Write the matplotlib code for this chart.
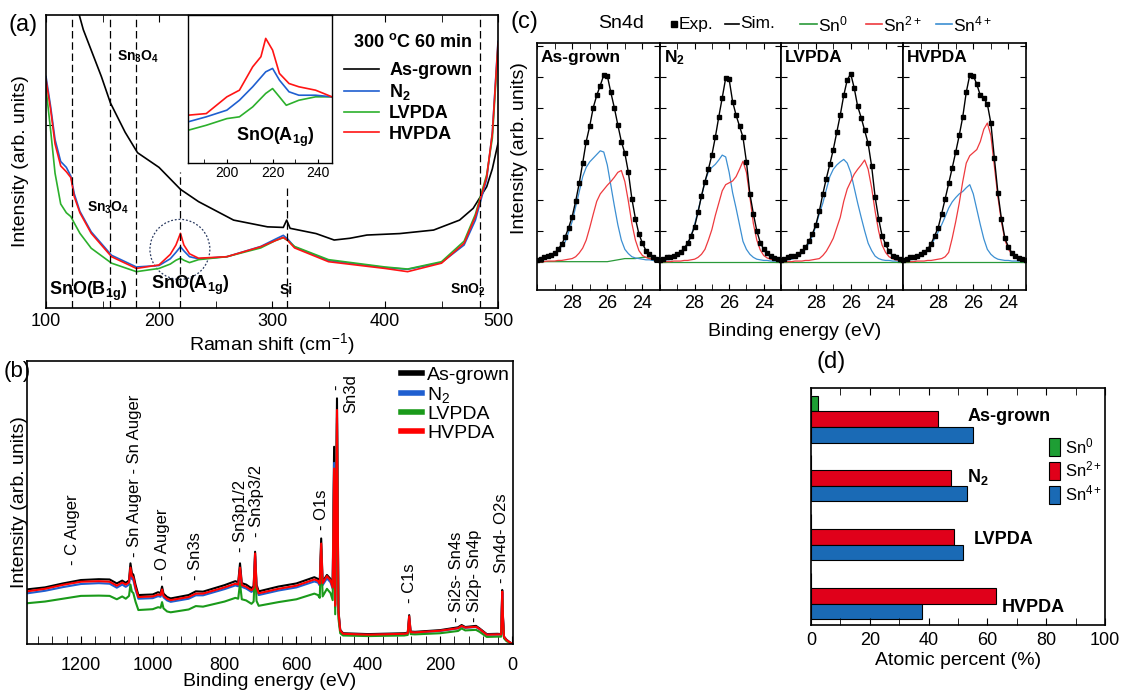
import matplotlib
matplotlib.use("Agg")
import matplotlib.pyplot as plt
from matplotlib.lines import Line2D
from matplotlib.patches import Ellipse
from matplotlib.ticker import MultipleLocator, NullLocator

plt.rcParams.update({
    "font.family": ["Liberation Sans", "DejaVu Sans"],
    "mathtext.fontset": "custom",
    "mathtext.rm": "Liberation Sans",
    "mathtext.it": "Liberation Sans:italic",
    "mathtext.bf": "Liberation Sans:bold",
    "axes.linewidth": 1.2,
    "xtick.direction": "in",
    "ytick.direction": "in",
})
NARROW = ["Liberation Sans Narrow", "Liberation Sans", "DejaVu Sans"]

W, H = 1126, 699

# ---------------- (a) Raman ----------------
raman_grown_x = [128, 133, 140, 149, 157, 170, 181, 200, 219, 235, 266, 296, 310, 313, 316,
                 339, 355, 369, 384, 413, 443, 466, 478, 490, 495, 500]
raman_grown_y = [102, 95, 88, 79, 70, 60, 53, 48, 40.5, 36.3, 30.0, 27.7, 27.5, 30.0, 27.2,
                 25.4, 23.2, 23.8, 24.9, 25.4, 26.6, 30.0, 34.0, 41.4, 47.5, 56.2]
raman_x = [100, 104, 108, 113, 118, 122, 125, 130, 140, 158, 180, 200, 210, 215, 219, 222, 227,
           235, 260, 290, 303, 310, 314, 320, 350, 400, 420, 450, 470, 480, 490, 495, 500]
raman_n2 = [79, 69, 57.5, 50, 48, 45, 39, 33, 26, 18, 14, 14.5, 16.8, 19, 20.9, 19.5, 17.5,
            16.8, 17.5, 21, 23.5, 24.8, 23.5, 20.8, 16.2, 13.8, 13.2, 15.5, 21.5, 30.0, 44.0, 60.0, 91.0]
raman_lv = [75, 61, 46, 35.5, 32.5, 31.2, 29, 25.5, 20.4, 15.3, 12.4, 13.5, 15, 16.3, 17.0, 16.3, 15.5,
            16.5, 17.5, 20.5, 23.0, 24.0, 23.0, 21.0, 16.5, 14.0, 13.3, 15.8, 22.8, 32.0, 45.5, 58.0, 89.0]
raman_hv = [78, 68, 56, 48.5, 46.5, 44.5, 38, 32.5, 25.5, 17.5, 13.5, 14.7, 18.3, 21.5, 25.5, 21.5, 18.5,
            17.0, 17.5, 20.9, 23.0, 24.1, 23.0, 20.5, 15.8, 13.5, 12.4, 15.3, 22.1, 31.2, 44.8, 59.6, 90.3]
raman_ref_lines = [123, 157, 180, 484]

inset_hv_x = [183, 191, 200, 205.5, 211.3, 214.9, 217, 220, 223, 227.2, 231.5, 238.8, 246]
inset_hv_y = [32.3, 33.4, 44.7, 49.2, 65, 71.8, 84.2, 76.3, 60.5, 53.7, 51.5, 49.2, 44.7]
inset_n2_x = [183, 191, 200, 205.5, 211.3, 217, 220, 223, 227.2, 231.5, 238.8, 246]
inset_n2_y = [27.8, 31.2, 35.7, 42.4, 51.5, 61.6, 63.9, 56, 48.1, 45.8, 45.8, 44.7]
inset_lv_x = [183, 191, 200, 205.5, 211.3, 217, 220, 223, 226, 231.5, 238.8, 246]
inset_lv_y = [22.1, 25.5, 30, 31.2, 37.9, 47, 50.3, 44.7, 39, 42.4, 44.7, 44.7]

# ---------------- (b) XPS survey ----------------
xps_be = [1350, 1300, 1250, 1200, 1150, 1120, 1100, 1085, 1075, 1066, 1062, 1058, 1054, 1048, 1040,
          1000, 985, 978, 974, 970, 960, 950, 900, 880, 860, 800, 770, 762, 757, 752, 740, 725, 719,
          715, 711, 705, 650, 600, 550, 540, 535, 531, 527, 515, 505, 499, 495, 492, 487, 483, 478,
          470, 400, 300, 290, 286, 282, 270, 200, 150, 140, 130, 100, 90, 70, 40, 30, 27, 25, 22, 15, 5, 0]
xps_grown = [19.3, 20.0, 21.4, 22.6, 22.9, 22.8, 21.4, 22.4, 21.6, 22.5, 28.5, 25.0, 24.5, 21.0, 17.3,
             17.5, 18.3, 18.0, 20.3, 17.8, 16.6, 16.1, 17.3, 18.6, 18.5, 20.8, 22.2, 21.8, 28.5, 21.5, 21.0, 19.7, 20.5,
             32.6, 21.0, 18.6, 20.3, 21.4, 23.6, 23.0, 22.0, 37.3, 22.0, 24.4, 23.0, 21.0, 69.7, 14.0, 86.8, 12.0, 5.0,
             3.8, 3.5, 3.8, 4.0, 10.2, 4.4, 4.3, 4.9, 5.9, 6.7, 6.0, 6.4, 5.5, 3.5, 3.6, 3.5, 19.1, 10.0, 2.6, 1.5, 0.5, 0.2]
xps_n2 = [17.9, 18.8, 20.1, 21.2, 21.5, 21.3, 19.9, 21.0, 20.2, 21.0, 26.0, 23.0, 22.6, 19.3, 16.0,
          16.2, 16.9, 16.7, 18.8, 16.5, 15.4, 14.9, 16.0, 17.2, 17.2, 19.4, 20.7, 20.4, 26.0, 20.2, 19.6, 18.4, 19.2,
          31.0, 19.6, 17.3, 18.9, 20.0, 22.1, 21.7, 20.7, 33.5, 20.8, 23.2, 21.8, 19.5, 64.0, 13.0, 80.0, 11.0, 4.6,
          3.5, 3.2, 3.5, 3.7, 9.0, 4.1, 4.0, 4.6, 5.5, 6.2, 5.7, 6.0, 5.2, 3.3, 3.3, 3.3, 18.0, 9.2, 2.4, 1.3, 0.5, 0.2]
xps_lv = [14.4, 15.0, 16.0, 17.0, 17.1, 17.0, 15.8, 16.8, 16.0, 17.0, 21.0, 18.5, 18.0, 15.0, 12.0,
          12.3, 13.0, 12.8, 14.8, 12.6, 11.5, 11.2, 12.2, 13.4, 13.2, 15.0, 16.3, 16.0, 21.5, 15.8, 15.4, 14.2, 15.0,
          28.0, 15.2, 13.5, 14.8, 15.8, 17.8, 17.3, 16.3, 33.5, 16.8, 19.5, 18.0, 15.5, 60.0, 10.5, 78.0, 9.0, 3.8,
          3.0, 2.8, 3.0, 3.2, 8.0, 3.5, 3.4, 3.8, 4.6, 5.5, 4.8, 5.0, 4.3, 2.5, 2.6, 2.6, 16.0, 8.0, 2.0, 1.0, 0.4, 0.1]
xps_hv = [18.6, 19.5, 20.9, 22.0, 22.2, 22.0, 20.6, 21.7, 21.0, 21.8, 27.0, 24.0, 23.5, 20.0, 16.6,
          16.8, 17.5, 17.3, 19.3, 17.0, 16.0, 15.5, 16.6, 17.8, 17.8, 20.0, 21.3, 21.0, 27.0, 20.8, 20.2, 19.0, 19.8,
          32.0, 20.2, 17.9, 19.5, 20.6, 22.8, 22.3, 21.3, 35.5, 21.5, 24.0, 22.5, 20.0, 62.0, 13.5, 82.7, 11.5, 4.8,
          3.6, 3.3, 3.6, 3.8, 9.8, 4.2, 4.1, 4.7, 5.6, 6.4, 5.8, 6.1, 5.3, 3.3, 3.4, 3.4, 18.5, 9.5, 2.5, 1.4, 0.5, 0.2]
xps_peaks = [("- C Auger", 1223, 27.9), ("- Sn Auger - Sn Auger", 1051, 30.7), ("- O Auger", 972, 22.6),
             ("- Sn3s", 880, 22.6), ("- Sn3p1/2", 757, 32.5), ("- Sn3p3/2", 712, 37.8), ("- O1s", 531, 40.3),
             ("-", 487, 89.8), ("Sn3d", 448, 81.6), ("- C1s", 285, 14.5), ("- Si2s- Sn4s", 155, 7.8),
             ("- Si2p- Sn4p", 104, 7.8), ("- Sn4d- O2s", 30, 21.6)]

# ---------------- (c) Sn4d fits ----------------
sn4d_be = [30.0, 29.8, 29.6, 29.4, 29.2, 29.0, 28.8, 28.6, 28.4, 28.2, 28.0, 27.8, 27.6, 27.4, 27.2, 27.0,
           26.8, 26.6, 26.4, 26.2, 26.0, 25.8, 25.6, 25.4, 25.2, 25.0, 24.8, 24.6, 24.4, 24.2, 24.0, 23.8,
           23.6, 23.4, 23.2, 23.0]
exp_grown = [0.03, 0.05, 0.07, 0.09, 0.11, 0.14, 0.2, 0.28, 0.4, 0.55, 0.73, 0.98, 1.27, 1.6, 1.95, 2.2,
             2.5, 2.7, 2.86, 3.03, 3.02, 2.75, 2.5, 2.22, 1.95, 1.76, 1.45, 1.02, 0.7, 0.45, 0.3, 0.18,
             0.12, 0.08, 0.05, 0.03]
sn0_grown = [0, 0, 0, 0, 0, 0, 0, 0, 0, 0, 0, 0, 0, 0, 0, 0, 0, 0, 0, 0, 0, 0.01, 0.02, 0.03, 0.04, 0.05,
             0.05, 0.05, 0.05, 0.06, 0.07, 0.07, 0.06, 0.05, 0.03, 0.02]
sn2_grown = [0.0, 0.0, 0.0, 0.01, 0.01, 0.01, 0.02, 0.02, 0.03, 0.04, 0.05, 0.08, 0.14, 0.22, 0.35, 0.55,
             0.77, 0.98, 1.1, 1.17, 1.24, 1.3, 1.37, 1.45, 1.48, 1.3, 0.98, 0.62, 0.35, 0.18, 0.1, 0.07,
             0.05, 0.04, 0.03, 0.02]
sn4_grown = [0.02, 0.03, 0.04, 0.06, 0.08, 0.12, 0.18, 0.25, 0.32, 0.48, 0.65, 0.89, 1.13, 1.38, 1.53, 1.62,
             1.68, 1.74, 1.8, 1.78, 1.57, 1.24, 0.91, 0.6, 0.35, 0.2, 0.13, 0.08, 0.06, 0.05, 0.04, 0.03,
             0.03, 0.02, 0.02, 0.02]
exp_n2 = [0.03, 0.05, 0.07, 0.08, 0.1, 0.12, 0.16, 0.22, 0.3, 0.42, 0.57, 0.8, 1.07, 1.3, 1.5, 1.73,
          2.02, 2.35, 2.66, 2.98, 2.96, 2.6, 2.38, 2.2, 2.02, 1.62, 1.1, 0.78, 0.5, 0.31, 0.2, 0.14,
          0.09, 0.06, 0.04, 0.03]
sn2_n2 = [0.0, 0.0, 0.0, 0.0, 0.01, 0.01, 0.01, 0.02, 0.02, 0.03, 0.04, 0.07, 0.12, 0.2, 0.35, 0.52,
          0.75, 0.95, 1.15, 1.25, 1.28, 1.31, 1.38, 1.5, 1.63, 1.45, 1.05, 0.62, 0.35, 0.19, 0.1, 0.06,
          0.04, 0.03, 0.02, 0.02]
sn4_n2 = [0.01, 0.02, 0.03, 0.04, 0.06, 0.09, 0.13, 0.19, 0.28, 0.42, 0.6, 0.83, 1.05, 1.3, 1.46, 1.53,
          1.58, 1.65, 1.73, 1.7, 1.45, 1.12, 0.87, 0.6, 0.33, 0.2, 0.12, 0.07, 0.04, 0.03, 0.02, 0.02,
          0.01, 0.01, 0.01, 0.01]
exp_lv = [0.03, 0.05, 0.07, 0.09, 0.1, 0.13, 0.17, 0.23, 0.33, 0.45, 0.6, 0.82, 1.1, 1.35, 1.58, 1.82,
          2.1, 2.38, 2.7, 2.95, 3.05, 2.82, 2.52, 2.34, 2.13, 1.92, 1.55, 1.05, 0.7, 0.42, 0.28, 0.17,
          0.1, 0.07, 0.05, 0.03]
sn2_lv = [0.0, 0.0, 0.0, 0.0, 0.01, 0.01, 0.01, 0.02, 0.02, 0.03, 0.04, 0.05, 0.1, 0.17, 0.27, 0.38,
          0.55, 0.72, 0.98, 1.18, 1.3, 1.42, 1.5, 1.57, 1.65, 1.5, 1.2, 0.82, 0.5, 0.27, 0.15, 0.08,
          0.05, 0.03, 0.02, 0.02]
sn4_lv = [0.01, 0.02, 0.03, 0.04, 0.06, 0.09, 0.14, 0.2, 0.3, 0.41, 0.58, 0.78, 0.95, 1.17, 1.38, 1.5,
          1.57, 1.62, 1.66, 1.6, 1.45, 1.2, 0.95, 0.72, 0.5, 0.3, 0.18, 0.09, 0.05, 0.03, 0.02, 0.02,
          0.01, 0.01, 0.01, 0.01]
exp_hv = [0.03, 0.05, 0.07, 0.08, 0.1, 0.12, 0.16, 0.2, 0.29, 0.42, 0.55, 0.78, 1.02, 1.27, 1.52, 1.78,
          2.05, 2.35, 2.75, 3.03, 3.02, 2.88, 2.7, 2.65, 2.56, 2.25, 1.68, 1.12, 0.7, 0.38, 0.24, 0.14,
          0.09, 0.06, 0.04, 0.03]
sn2_hv = [0.0, 0.0, 0.0, 0.0, 0.01, 0.01, 0.01, 0.02, 0.02, 0.03, 0.04, 0.05, 0.08, 0.15, 0.38, 0.65,
          0.95, 1.3, 1.6, 1.72, 1.77, 1.82, 1.95, 2.15, 2.25, 2.05, 1.55, 1.05, 0.65, 0.35, 0.2, 0.12,
          0.07, 0.04, 0.03, 0.02]
sn4_hv = [0.01, 0.02, 0.03, 0.04, 0.06, 0.09, 0.12, 0.18, 0.27, 0.37, 0.48, 0.6, 0.73, 0.87, 0.97, 1.04,
          1.1, 1.14, 1.2, 1.25, 1.1, 0.85, 0.6, 0.37, 0.2, 0.12, 0.07, 0.04, 0.03, 0.02, 0.02, 0.01,
          0.01, 0.01, 0.01, 0.01]
sn0_flat = [0, 0, 0, 0, 0, 0, 0, 0, 0, 0, 0, 0, 0, 0, 0, 0, 0, 0, 0, 0, 0, 0, 0, 0, 0, 0, 0, 0, 0, 0,
            0, 0, 0, 0, 0, 0]

# ---------------- (d) atomic percent ----------------
samples = ["As-grown", "N$_\\mathbf{2}$", "LVPDA", "HVPDA"]
sn0_pct = [2.5, 0, 0, 0]
sn2_pct = [43.1, 47.5, 48.8, 62.9]
sn4_pct = [55.0, 52.9, 51.6, 37.6]

BLACK, BLUE, GREEN, RED = "black", "#1f5fd0", "#2cb02c", "#ff1414"
C_SN0, C_SN2, C_SN4 = "#2a9a3a", "#ee3a3e", "#3c8fd2"
D_SN0, D_SN2, D_SN4 = "#1e9e34", "#e0001a", "#1a6ab5"


def rect(l, t, r, b):
    return [l / W, 1 - b / H, (r - l) / W, (b - t) / H]


def ftext(x, y, s, **kw):
    fig.text(x / W, 1 - y / H, s, **kw)


fig = plt.figure(figsize=(W / 100, H / 100), dpi=100)

# ===== panel (a) =====
ax_a = fig.add_axes(rect(46, 15, 498, 308))
ax_a.plot(raman_grown_x, raman_grown_y, color=BLACK, lw=1.2, label="As-grown")
ax_a.plot(raman_x, raman_n2, color=BLUE, lw=1.2, label="N$_\\mathbf{2}$")
ax_a.plot(raman_x, raman_lv, color=GREEN, lw=1.2, label="LVPDA")
ax_a.plot(raman_x, raman_hv, color=RED, lw=1.2, label="HVPDA")
for xv in raman_ref_lines:
    ax_a.axvline(xv, color="black", lw=0.9, ls=(0, (6, 3)))
ax_a.axvline(219, ymax=0.464, color="black", lw=0.9, ls=(0, (6, 3)))
ax_a.axvline(313, ymax=0.41, color="black", lw=0.9, ls=(0, (6, 3)))
ax_a.add_patch(Ellipse((218.5, 20), 53, 20.5, fill=False, ls=(0, (1.5, 1.5)), lw=0.9, ec="#2a3a60"))
ax_a.set_xlim(100, 500)
ax_a.set_ylim(0, 100)
ax_a.xaxis.set_major_locator(MultipleLocator(100))
ax_a.xaxis.set_minor_locator(MultipleLocator(50))
ax_a.set_yticks([62.5])
ax_a.set_yticklabels([])
ax_a.tick_params(which="both", top=True, right=True, length=5, labelsize=13)
ax_a.set_xlabel("Raman shift (cm$^{-1}$)", fontsize=14, labelpad=1)
ax_a.set_ylabel("Intensity (arb. units)", fontsize=14, labelpad=9)
ax_a.legend(loc="upper left", bbox_to_anchor=(344 / W, 1 - 62 / H), bbox_transform=fig.transFigure,
            frameon=False, prop={"weight": "bold", "size": 13}, handlelength=1.95, handletextpad=0.55,
            labelspacing=0.18, borderpad=0, borderaxespad=0)
ftext(353, 42, "300 $^\\mathbf{o}$C 60 min", fontsize=13, fontweight="bold", va="center")
for s, xv, yv, fs in [("Sn$_\\mathbf{3}$O$_\\mathbf{4}$", 181, 85.7, 10),
                      ("Sn$_\\mathbf{3}$O$_\\mathbf{4}$", 155, 34.1, 10),
                      ("SnO(B$_\\mathbf{1g}$)", 137.5, 5.5, 13),
                      ("SnO(A$_\\mathbf{1g}$)", 228, 7.8, 13),
                      ("Si", 312.6, 6.1, 10),
                      ("SnO$_\\mathbf{2}$", 473, 6.1, 10)]:
    ax_a.text(xv, yv, s, fontsize=fs, fontweight="bold", ha="center", va="center")
ftext(9, 25, "(a)", fontsize=17, va="center")

ax_in = fig.add_axes(rect(188, 15, 332, 163))
ax_in.plot(inset_lv_x, inset_lv_y, color=GREEN, lw=1.2)
ax_in.plot(inset_n2_x, inset_n2_y, color=BLUE, lw=1.2)
ax_in.plot(inset_hv_x, inset_hv_y, color=RED, lw=1.2)
ax_in.set_xlim(183, 246)
ax_in.set_ylim(0, 100)
ax_in.xaxis.set_major_locator(MultipleLocator(20))
ax_in.xaxis.set_minor_locator(MultipleLocator(10))
ax_in.set_yticks([])
ax_in.tick_params(which="both", length=3, labelsize=10, pad=2)
for sp in ax_in.spines.values():
    sp.set_linewidth(1.0)
ax_in.text(221, 17.6, "SnO(A$_\\mathbf{1g}$)", fontsize=13, fontweight="bold", ha="center", va="center")

# ===== panel (b) =====
ax_b = fig.add_axes(rect(27, 361, 513, 644))
ax_b.plot(xps_be, xps_grown, color=BLACK, lw=1.5, label="As-grown")
ax_b.plot(xps_be, xps_n2, color=BLUE, lw=1.5, label="N$_2$")
ax_b.plot(xps_be, xps_lv, color="#1a9a1a", lw=1.5, label="LVPDA")
ax_b.plot(xps_be, xps_hv, color="#ff0000", lw=1.5, label="HVPDA")
ax_b.set_xlim(1350, -3)
ax_b.set_ylim(0, 100)
ax_b.xaxis.set_major_locator(MultipleLocator(200))
ax_b.xaxis.set_minor_locator(MultipleLocator(40))
ax_b.yaxis.set_major_locator(NullLocator())
ax_b.tick_params(which="both", length=6, labelsize=13, pad=9)
for lab in ax_b.get_xticklabels():
    lab.set_family(NARROW)
ax_b.set_xlabel("Binding energy (eV)", fontsize=14, family=NARROW, labelpad=0)
ax_b.set_ylabel("Intensity (arb. units)", fontsize=14, labelpad=-1)
for s, xv, yv in xps_peaks:
    ax_b.text(xv, yv, s, rotation=90, fontsize=12, ha="center", va="bottom")
leg_b = ax_b.legend(loc="upper left", bbox_to_anchor=(401 / W, 1 - 366 / H), bbox_transform=fig.transFigure,
                    frameon=False, prop={"family": NARROW, "size": 14}, handlelength=1.1,
                    handletextpad=0.25, labelspacing=0.05, borderpad=0, borderaxespad=0)
for ln in leg_b.get_lines():
    ln.set_linewidth(4)
ftext(4, 372, "(b)", fontsize=16, family=NARROW, va="center")

# ===== panel (c) =====
sn4d_sets = [("As-grown", exp_grown, sn0_grown, sn2_grown, sn4_grown),
             ("N$_\\mathbf{2}$", exp_n2, sn0_flat, sn2_n2, sn4_n2),
             ("LVPDA", exp_lv, sn0_flat, sn2_lv, sn4_lv),
             ("HVPDA", exp_hv, sn0_flat, sn2_hv, sn4_hv)]
c_edges = [537, 660, 781, 903, 1026]
c_axes = []
for i, (name, exp, sn0, sn2, sn4) in enumerate(sn4d_sets):
    ax = fig.add_axes(rect(c_edges[i], 43, c_edges[i + 1], 290))
    ax.plot(sn4d_be, sn0, color=C_SN0, lw=0.9)
    ax.plot(sn4d_be, sn4, color=C_SN4, lw=0.9)
    ax.plot(sn4d_be, sn2, color=C_SN2, lw=0.9)
    ax.plot(sn4d_be, exp, color="black", lw=1.0, marker="s", ms=2.8)
    ax.set_xlim(30, 23)
    ax.set_ylim(-0.46, 3.55)
    ax.xaxis.set_minor_locator(MultipleLocator(1))
    ax.set_xticks([28, 26, 24])
    ax.yaxis.set_major_locator(MultipleLocator(0.5))
    ax.set_yticklabels([])
    ax.tick_params(which="both", top=True, right=True, length=4, labelsize=13)
    ax.text(0.03, 0.94, name, transform=ax.transAxes, fontsize=12.5, fontweight="bold", va="center")
    c_axes.append(ax)
c_axes[0].set_ylabel("Intensity (arb. units)", fontsize=14)
c_axes[0].yaxis.set_label_coords(-0.07, 0.575)
ftext(795, 332, "Binding energy (eV)", fontsize=14, ha="center", va="center")
ftext(511, 22, "(c)", fontsize=17, va="center")
ftext(598, 23, "Sn4d", fontsize=14, va="center")
fig.add_artist(Line2D([674 / W], [1 - 24 / H], marker="s", ms=5, color="black"))
ftext(679, 24, "Exp.", fontsize=12.5, va="center")
for x0, x1, col, s in [(725, 739, "black", "Sim."), (800, 817, C_SN0, "Sn$^0$"),
                       (866, 882, C_SN2, "Sn$^{2+}$"), (936, 952, C_SN4, "Sn$^{4+}$")]:
    fig.add_artist(Line2D([x0 / W, x1 / W], [1 - 24 / H, 1 - 24 / H], color=col, lw=1.2))
    ftext(x1 + 1, 24, s, fontsize=12.5, va="center")

# ===== panel (d) =====
ax_d = fig.add_axes(rect(811, 388, 1105, 625))
bar_h = 0.265
for k, (vals, col, lab) in enumerate([(sn0_pct, D_SN0, "Sn$^0$"), (sn2_pct, D_SN2, "Sn$^{2+}$"),
                                      (sn4_pct, D_SN4, "Sn$^{4+}$")]):
    ax_d.barh([g + (k - 1.5) * bar_h for g in range(len(samples))], vals, height=bar_h,
              color=col, edgecolor="black", lw=0.8, label=lab)
ax_d.set_xlim(0, 100)
ax_d.set_ylim(3.36, -0.66)
ax_d.xaxis.set_major_locator(MultipleLocator(20))
ax_d.xaxis.set_minor_locator(MultipleLocator(10))
ax_d.yaxis.set_major_locator(NullLocator())
ax_d.tick_params(which="both", top=True, length=5, labelsize=13, pad=5)
ax_d.set_xlabel("Atomic percent (%)", fontsize=14, labelpad=2)
for name, (xf, yf) in zip(samples, [(0.532, 0.878), (0.532, 0.624), (0.552, 0.359), (0.650, 0.072)]):
    ax_d.text(xf, yf, name, transform=ax_d.transAxes, fontsize=13, fontweight="bold", va="center")
ax_d.legend(loc="upper left", bbox_to_anchor=(1049 / W, 1 - 436 / H), bbox_transform=fig.transFigure,
            frameon=False, fontsize=12, handlelength=0.65, handleheight=1.3, handletextpad=0.3,
            labelspacing=0.2, borderpad=0, borderaxespad=0)
ftext(816, 362, "(d)", fontsize=17, va="center")

fig.savefig("out.png", dpi=100)
